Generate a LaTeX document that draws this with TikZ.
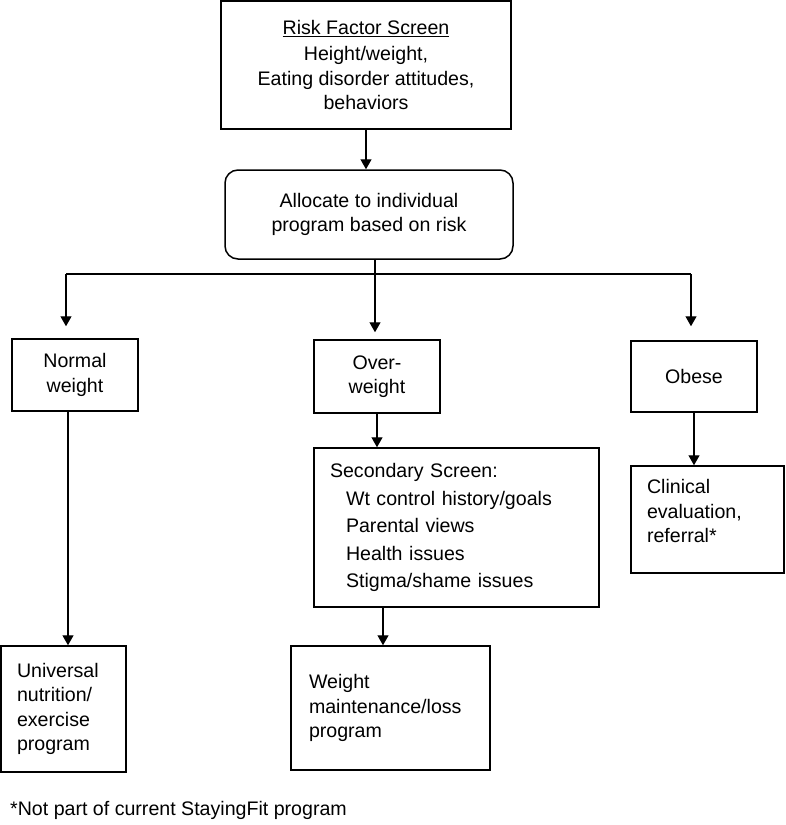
\documentclass[tikz,border=0pt]{standalone}
\usepackage{fontspec}
\setmainfont{Liberation Sans}
\usetikzlibrary{arrows.meta,calc}
\tikzset{
  box/.style={draw, line width=1.5pt, inner sep=0pt, font=\fontsize{19.6}{24.5}\selectfont},
  cbox/.style={box, align=center},
  lbox/.style={box, align=left, inner xsep=16pt},
  arr/.style={line width=1.3pt, -{Triangle[length=10pt,width=11pt]}},
  ln/.style={line width=1.3pt}
}
\begin{document}
\begin{tikzpicture}[x=1pt,y=-1pt]
\useasboundingbox (0,0) rectangle (785,825);
% boxes
\node[cbox, minimum width=290pt, minimum height=128pt] (top) at (366,65)
  {\underline{Risk Factor Screen}\\[2pt]Height/weight,\\Eating disorder attitudes,\\behaviors};
\node[cbox, rounded corners=13pt, minimum width=288pt, minimum height=89pt] (alloc) at (369,214.5)
  {Allocate to individual\\program based on risk};
\node[cbox, minimum width=126pt, minimum height=72pt] (normal) at (75,375) {Normal\\weight};
\node[cbox, minimum width=126pt, minimum height=73pt] (over) at (377,376.5) {Over-\\weight};
\node[cbox, minimum width=126pt, minimum height=71pt] (obese) at (694,376.5) {Obese};
\node[lbox, text width=253pt, minimum width=285pt, minimum height=159pt,
  font=\fontsize{19.6}{27.5}\selectfont] (sec) at (456.5,527.5)
  {Secondary Screen:\\\hspace*{16pt}Wt control history/goals\\\hspace*{16pt}Parental views\\\hspace*{16pt}Health issues\\\hspace*{16pt}Stigma/shame issues};
\node[lbox, inner xsep=18pt, text width=163pt, minimum width=199pt, minimum height=124pt] (weight) at (390.5,708)
  {Weight\\maintenance/loss\\program};
\node[lbox, text width=93pt, minimum width=125pt, minimum height=126pt] (univ) at (63.5,709)
  {Universal\\nutrition/\\exercise\\program};
\node[lbox, text width=121pt, minimum width=153pt, minimum height=107pt] (clin) at (707.5,519.5)
  {Clinical\\evaluation,\\referral*\rule[-17pt]{0pt}{17pt}};
\node[anchor=west, inner sep=0pt, font=\fontsize{19.6}{24}\selectfont] (note) at (10,810)
  {*Not part of current StayingFit program};
% junction coordinates
\coordinate (jL) at (66,274);
\coordinate (jM) at (375,274);
\coordinate (jR) at (691,274);
\coordinate (xN) at (68,0);
\coordinate (xS) at (383,0);
% connectors
\draw[arr] (top.south) -- (top.south |- alloc.north);
\draw[ln] (jL) -- (jR);
\draw[arr, shorten >=7pt] (alloc.south -| jM) -- (jM |- over.north);
\draw[arr, shorten >=12pt] (jL) -- (jL |- normal.north);
\draw[arr, shorten >=14pt] (jR) -- (jR |- obese.north);
\draw[arr] (over.south) -- (over.south |- sec.north);
\draw[arr] (xS |- sec.south) -- (xS |- weight.north);
\draw[arr] (obese.south) -- (obese.south |- clin.north);
\draw[arr] (xN |- normal.south) -- (xN |- univ.north);
\end{tikzpicture}
\end{document}
